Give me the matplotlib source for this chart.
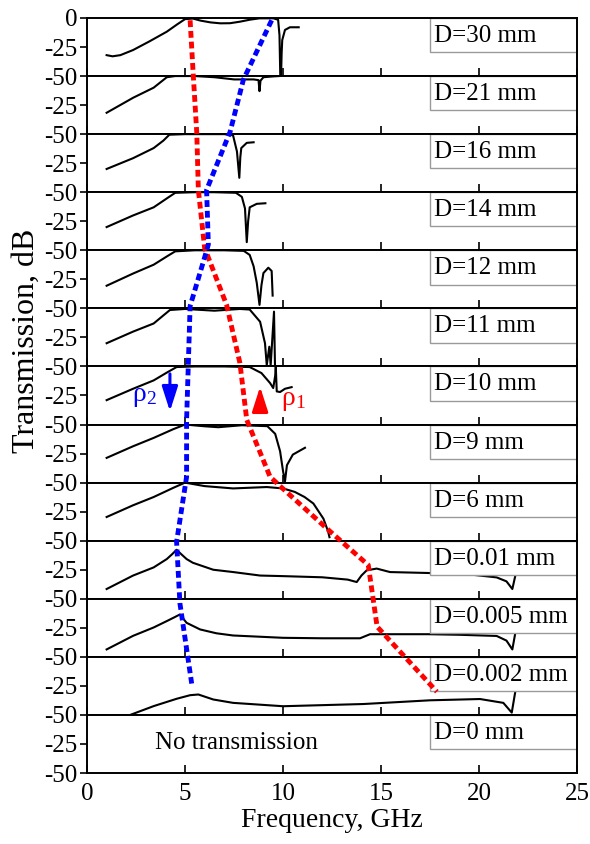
import matplotlib
matplotlib.use("Agg")
import matplotlib.pyplot as plt
from matplotlib.patches import Rectangle, FancyArrowPatch

plt.rcParams['font.family'] = ['Liberation Serif', 'DejaVu Serif']
plt.rcParams['axes.unicode_minus'] = False
plt.rcParams['mathtext.default'] = 'regular'

# panel labels, top to bottom
labels = ["D=30 mm", "D=21 mm", "D=16 mm", "D=14 mm", "D=12 mm", "D=11 mm", "D=10 mm",
          "D=9 mm", "D=6 mm", "D=0.01 mm", "D=0.005 mm", "D=0.002 mm", "D=0 mm"]

# transmission curves (GHz, dB)
f30 = [1.0, 1.3, 1.7, 2.35, 3.2, 4.07, 4.6, 5.0, 5.4, 5.8, 6.3, 6.8, 7.3, 7.8, 8.3, 8.8, 9.5, 9.75, 9.82, 9.86, 9.9, 9.93, 9.96, 10.1, 10.35, 10.8]
d30 = [-32, -33, -32, -27.6, -20, -11.8, -5.5, -1, -0.5, -2.3, -3.8, -4.6, -4.5, -3.2, -1.5, -0.3, -0.3, -1.5, -15, -50, -50, -30, -19, -10.3, -8, -8]

f21 = [1.0, 2.35, 3.4, 4.07, 4.5, 5.5, 6.5, 7.5, 8.5, 8.75, 8.8, 8.85, 9.0, 9.5, 9.8]
d21 = [-31.6, -18.7, -10, -1, 0, 0, -1, -2.9, -2.9, -3.5, -13, -4, -1, -0.3, 0]

f16 = [1.0, 2.35, 3.4, 3.9, 4.2, 5.0, 6.0, 7.0, 7.45, 7.65, 7.77, 7.82, 7.87, 8.15, 8.5]
d16 = [-30, -20.7, -12, -5.5, -0.5, 0, 0, 0, -1, -15, -37.6, -20, -12, -7.5, -7]

f14 = [1.0, 2.35, 3.4, 4.1, 4.5, 5.5, 6.5, 7.6, 7.9, 8.06, 8.15, 8.22, 8.3, 8.66, 9.1]
d14 = [-30, -20, -13, -5, -0.5, 0, 0, -0.5, -4, -14, -43, -25, -13, -10, -9.5]

f12 = [1.0, 2.35, 3.4, 4.1, 4.5, 5.5, 7.0, 8.0, 8.3, 8.5, 8.66, 8.8, 8.9, 9.0, 9.25, 9.42, 9.47]
d12 = [-30.5, -20, -12.4, -5, -0.9, 0, 0, -0.5, -4, -13.8, -28, -47, -30, -19.6, -15, -17.8, -39]

f11 = [1.0, 2.35, 3.4, 3.9, 4.23, 5.0, 6.5, 7.8, 8.3, 8.83, 9.08, 9.17, 9.3, 9.37, 9.54, 9.59]
d11 = [-30, -20, -13, -6, -1.4, -0.5, -2, -0.5, -1, -11.5, -30, -48.9, -33, -48.9, -2.8, -49]

f10 = [1.0, 2.35, 3.4, 4.1, 4.57, 5.5, 7.0, 8.3, 8.9, 9.34, 9.5, 9.6, 9.63, 9.68, 9.85, 10.1, 10.44]
d10 = [-29, -19.2, -12, -5, -0.5, 0, 0, -0.5, -5.7, -14.3, -18.6, -8, 0, -21.5, -22, -19.2, -17.8]

f9 = [1.0, 2.35, 3.4, 4.4, 5.0, 6.0, 6.7, 7.9, 9.2, 9.6, 9.85, 10.0, 10.1, 10.2, 10.5, 11.12]
d9 = [-28.7, -18.7, -11.5, -4, 0, -1.5, -2.3, -0.6, -1.4, -8, -23, -40, -49, -35, -25.9, -20]

f6 = [1.0, 2.35, 3.4, 4.4, 5.0, 6.0, 7.45, 9.17, 10.0, 10.6, 11.1, 11.55, 12.06, 12.3, 12.37]
d6 = [-29.6, -19.5, -12.4, -4.5, 0, -3, -5, -3.8, -5, -8, -12.4, -18, -31, -42, -47]

f001 = [1.0, 2.35, 3.4, 4.07, 4.35, 4.57, 4.8, 5.08, 5.4, 6.44, 7.46, 8.83, 10.0, 12.0, 13.3, 13.76, 14.0, 14.27, 14.78, 15.46, 17.4, 19.5, 20.9, 21.4, 21.7, 21.84]
d001 = [-41.6, -30, -23, -15.8, -11.5, -7.8, -11.5, -15.8, -19, -25, -27, -30, -30.5, -31.5, -33.5, -35.6, -30, -25.5, -24, -27, -27.8, -29, -31.6, -35, -41.6, -31]

f0005 = [1.0, 2.35, 3.4, 4.07, 4.45, 4.74, 5.08, 5.77, 6.6, 7.45, 10.0, 12.0, 13.93, 14.44, 17.4, 19.0, 20.9, 21.4, 21.7, 21.84]
d0005 = [-43.6, -31.9, -24.7, -19.2, -16, -13.5, -20.7, -26.4, -29.7, -31.6, -33.6, -34, -34, -30.5, -30.5, -31, -32, -36, -43.6, -30.5]

f0002 = [2.2, 3.4, 4.57, 5.26, 5.68, 6.44, 7.45, 10.0, 14.1, 17.5, 20.05, 21.24, 21.67, 21.84]
d0002 = [-50, -42.4, -36.1, -33.0, -32.4, -36.7, -39.6, -42.5, -40.6, -37.4, -36.3, -39.6, -48, -31]

curves = [(f30, d30), (f21, d21), (f16, d16), (f14, d14), (f12, d12), (f11, d11), (f10, d10),
          (f9, d9), (f6, d6), (f001, d001), (f0005, d0005), (f0002, d0002), None]

# dotted guide lines, in stacked dB (each panel is 50 dB tall)
rho1_f = [5.26, 5.42, 5.6, 5.68, 6.0, 7.12, 7.8, 8.15, 9.34, 9.85, 12.4, 14.35, 14.8, 17.85]
rho1_db = [-2, -49, -99, -148, -198, -247, -297, -346, -395, -403, -442, -471, -524, -580]
rho2_f = [9.42, 7.98, 7.3, 6.1, 6.19, 6.02, 5.26, 5.17, 5.08, 5.08, 4.57, 4.74, 5.34]
rho2_db = [-2, -53, -98, -148, -195, -205, -248, -297, -346, -395, -451, -504, -573]

xticks = [0, 5, 10, 15, 20, 25]

fig = plt.figure(figsize=(5.9, 8.44), dpi=100)
left, right, top, bottom = 0.1475, 0.978, 0.9787, 0.0841
gs = fig.add_gridspec(len(labels), 1, left=left, right=right, top=top, bottom=bottom, hspace=0)

axes = []
for i, lab in enumerate(labels):
    ax = fig.add_subplot(gs[i])
    axes.append(ax)
    if curves[i] is not None:
        ax.plot(curves[i][0], curves[i][1], color='black', lw=1.5, zorder=2)
    ax.set_xlim(0, 25)
    ax.set_ylim(-50, 0)
    if i == 0:
        ax.set_yticks([-50, -25, 0])
    else:
        ax.set_yticks([-50, -25])
    ax.set_xticks(xticks)
    ax.tick_params(axis='x', direction='in', length=6, width=1.2, labelsize=18, pad=7)
    ax.tick_params(axis='y', direction='out', length=5, width=1.2, labelsize=18, pad=2)
    if i < len(labels) - 1:
        ax.tick_params(axis='x', labelbottom=False)
    for s in ax.spines.values():
        s.set_linewidth(1.4)
    ax.add_patch(Rectangle((0.70, 0.41), 0.30, 0.59, transform=ax.transAxes,
                           facecolor='white', edgecolor='#9a9a9a', lw=1.0, zorder=2.2))
    ax.text(0.708, 0.69, lab, transform=ax.transAxes, fontsize=18, va='center', ha='left', zorder=3)

axes[-1].text(3.45, -24, "No transmission", fontsize=18, va='center', ha='left')
axes[-1].set_xlabel("Frequency, GHz", fontsize=20, labelpad=2)
fig.text(0.045, 1 - 341 / 844, "Transmission, dB", rotation=90, fontsize=23, va='center', ha='center')

# overlay for the dotted guides and arrows
ov = fig.add_axes([left, bottom, right - left, top - bottom], zorder=5)
ov.set_xlim(0, 25)
ov.set_ylim(-650, 0)
ov.axis('off')
ov.patch.set_alpha(0)

ov.plot(rho1_f, rho1_db, color='#ff0000', lw=3.5, dashes=(1.4, 0.8), dash_capstyle='butt')
ov.plot(rho2_f, rho2_db, color='#0000ff', lw=3.5, dashes=(1.4, 0.8), dash_capstyle='butt')

ov.add_patch(FancyArrowPatch((4.23, -304), (4.23, -341), arrowstyle='-|>,head_length=10,head_width=3.2',
                             color='#0000ff', lw=2.2, mutation_scale=1.5))
ov.add_patch(FancyArrowPatch((8.83, -341), (8.83, -315), arrowstyle='-|>,head_length=10,head_width=3.2',
                             color='#ff0000', lw=2.2, mutation_scale=1.5))
ov.text(2.3, -326, "ρ$_2$", color='#0000ff', fontsize=20, va='center', ha='left')
ov.text(9.9, -329, "ρ$_1$", color='#ff0000', fontsize=20, va='center', ha='left')

fig.savefig("out.png", dpi=100)
